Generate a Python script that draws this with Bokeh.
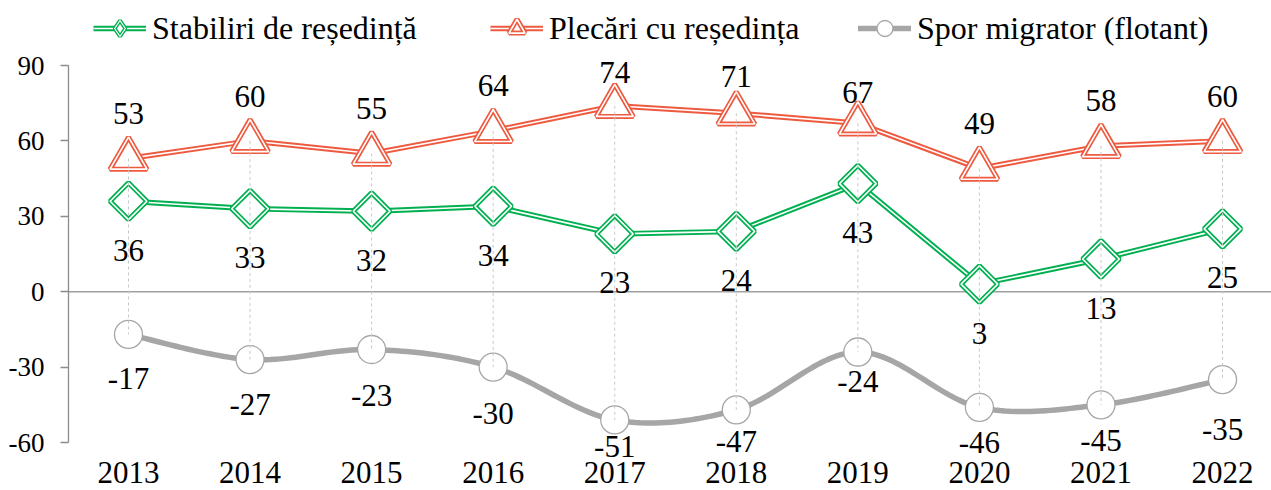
import numpy as np
from bokeh.plotting import figure
from bokeh.models import (Range1d, Span, Legend, LegendItem, ColumnDataSource,
                          FixedTicker, LabelSet)
from bokeh.core.properties import value
from bokeh.embed import file_html
from bokeh.resources import INLINE

# ---------------- data ----------------
years = [2013, 2014, 2015, 2016, 2017, 2018, 2019, 2020, 2021, 2022]
stabiliri = [36, 33, 32, 34, 23, 24, 43, 3, 13, 25]
plecari = [53, 60, 55, 64, 74, 71, 67, 49, 58, 60]
spor = [-17, -27, -23, -30, -51, -47, -24, -46, -45, -35]
series_names = ["Stabiliri de reședință", "Plecări cu reședința", "Spor migrator (flotant)"]
y_ticks = [-60, -30, 0, 30, 60, 90]

# label placement (screen px from the point), as positioned in the original
plecari_label_dy = [45, 44, 45, 45, 33, 37, 31, 45, 45, 44]
spor_label_dy = [-44, -45, -46, -46, -27, -32, -29, -35, -36, -50]
stabiliri_label_dy = -49

# ---------------- style ----------------
FONT = "'Liberation Serif', 'Times New Roman', serif"
RED = "#EE5A3F"
GREEN = "#00B050"
GREY = "#A6A6A6"

W, H = 1271, 490
LEFT = 68                 # frame left edge (y axis line)
PXY = 377.0 / 150.0       # px per value unit
PXX = 121.56              # px per year
y_top = y_ticks[-1] + 65 / PXY
y_bot = y_ticks[0] - (H - 442) / PXY
x_lo = years[0] - 60 / PXX
x_hi = x_lo + (W - LEFT) / PXX

p = figure(width=W, height=H,
           x_range=Range1d(x_lo, x_hi), y_range=Range1d(y_bot, y_top),
           output_backend="svg", toolbar_location=None,
           min_border_left=LEFT, min_border_right=0, min_border_top=0, min_border_bottom=0)
p.outline_line_color = None
p.grid.visible = False
p.background_fill_color = "white"

# axes
p.yaxis.ticker = FixedTicker(ticks=y_ticks)
p.yaxis.bounds = (y_ticks[0], y_ticks[-1])
p.yaxis.major_label_overrides = {t: str(t) for t in y_ticks}
p.yaxis.axis_line_color = "#8C8C8C"
p.yaxis.axis_line_width = 1.3
p.yaxis.major_tick_line_color = "#8C8C8C"
p.yaxis.major_tick_line_width = 1.3
p.yaxis.major_tick_out = 8
p.yaxis.major_tick_in = 0
p.yaxis.minor_tick_line_color = None
p.yaxis.major_label_text_font = FONT
p.yaxis.major_label_text_font_size = "27px"
p.yaxis.major_label_text_color = "black"
p.yaxis.major_label_standoff = 16

p.xaxis.ticker = FixedTicker(ticks=years)
p.xaxis.fixed_location = y_ticks[0]
p.xaxis.axis_line_color = None
p.xaxis.major_tick_line_color = None
p.xaxis.major_tick_out = 0
p.xaxis.minor_tick_line_color = None
p.xaxis.major_label_text_font = FONT
p.xaxis.major_label_text_font_size = "31px"
p.xaxis.major_label_text_color = "black"
p.xaxis.major_label_standoff = 19

# zero line
p.add_layout(Span(location=0, dimension="width", line_color="#A0A0A0",
                  line_width=1.5, level="underlay"))

# smoothed curve for spor (Catmull-Rom / Bezier, like Excel smoothing)
def smooth(xs, ys, n=24):
    P = np.column_stack([xs, ys]).astype(float)
    E = np.vstack([P[0], P, P[-1]])
    out = []
    for i in range(len(P) - 1):
        p0, p1, p2, p3 = E[i], E[i + 1], E[i + 2], E[i + 3]
        c1 = p1 + (p2 - p0) / 6.0
        c2 = p2 - (p3 - p1) / 6.0
        t = np.linspace(0, 1, n, endpoint=(i == len(P) - 2))[:, None]
        b = ((1 - t) ** 3) * p1 + 3 * ((1 - t) ** 2) * t * c1 + 3 * (1 - t) * t ** 2 * c2 + t ** 3 * p2
        out.append(b)
    out = np.vstack(out)
    return out[:, 0], out[:, 1]

sx, sy = smooth(years, spor)
grey_line = p.line(sx, sy, line_color=GREY, line_width=5.5, line_cap="round", line_join="round")

src = ColumnDataSource(dict(x=years, st=stabiliri, pl=plecari, sp=spor,
                            st_l=[str(v) for v in stabiliri],
                            pl_l=[str(v) for v in plecari],
                            sp_l=[str(v) for v in spor],
                            pl_dy=plecari_label_dy, sp_dy=spor_label_dy))

# red double line
red_o = p.line("x", "pl", source=src, line_color=RED, line_width=5.5, line_join="miter")
red_i = p.line("x", "pl", source=src, line_color="white", line_width=1.6, line_join="miter")
# green double line
grn_o = p.line("x", "st", source=src, line_color=GREEN, line_width=5.5, line_join="miter")
grn_i = p.line("x", "st", source=src, line_color="white", line_width=1.6, line_join="miter")

# markers
red_mo = p.scatter("x", "pl", source=src, marker="triangle", size=37, fill_color="white",
                   line_color=RED, line_width=5)
red_mi = p.scatter("x", "pl", source=src, marker="triangle", size=37, fill_color=None,
                   line_color="white", line_width=1.6)
grn_mo = p.scatter("x", "st", source=src, marker="square", angle=np.pi / 4, size=26,
                   fill_color="white", line_color=GREEN, line_width=5)
grn_mi = p.scatter("x", "st", source=src, marker="square", angle=np.pi / 4, size=26,
                   fill_color=None, line_color="white", line_width=1.6)
grey_m = p.scatter("x", "sp", source=src, marker="circle", size=28, fill_color="white",
                   line_color=GREY, line_width=1.3)

# legend-only diamond (no data)
nan_src = ColumnDataSource(dict(x=[np.nan], y=[np.nan]))
leg_d_o = p.scatter("x", "y", source=nan_src, marker="diamond", size=20, fill_color="white",
                    line_color=GREEN, line_width=4)
leg_d_i = p.scatter("x", "y", source=nan_src, marker="diamond", size=20, fill_color=None,
                    line_color="white", line_width=1.2)

# drop lines (from each point to the category axis at 0)
hi = [max(0, a, b, c) for a, b, c in zip(stabiliri, plecari, spor)]
lo = [min(0, a, b, c) for a, b, c in zip(stabiliri, plecari, spor)]
p.segment(x0=years, y0=hi, x1=years, y1=lo, line_color="#C8C8C8", line_width=1,
          line_dash="3 3")

# data labels
lab_kw = dict(source=src, text_font=value(FONT), text_font_size=value("31px"),
              text_align="center", text_baseline="middle", text_color="black")
p.add_layout(LabelSet(x="x", y="pl", text="pl_l", y_offset="pl_dy", **lab_kw))
p.add_layout(LabelSet(x="x", y="st", text="st_l", y_offset=stabiliri_label_dy, **lab_kw))
p.add_layout(LabelSet(x="x", y="sp", text="sp_l", y_offset="sp_dy", **lab_kw))

# legends
def make_legend(label, rends, x):
    lg = Legend(items=[LegendItem(label=label, renderers=rends)],
                location=(x, 442), orientation="horizontal",
                glyph_width=53, glyph_height=40, label_height=40,
                label_standoff=6, padding=0, margin=0, spacing=0,
                border_line_color=None, background_fill_alpha=0,
                label_text_font=FONT, label_text_font_size="32px",
                label_text_color="black")
    p.add_layout(lg, "center")

make_legend(series_names[0], [grn_o, grn_i, leg_d_o, leg_d_i], 25)
make_legend(series_names[1], [red_o, red_i, red_mo, red_mi], 422)
make_legend(series_names[2], [grey_line, grey_m], 790)

open("out.html", "w").write(file_html(p, INLINE))
